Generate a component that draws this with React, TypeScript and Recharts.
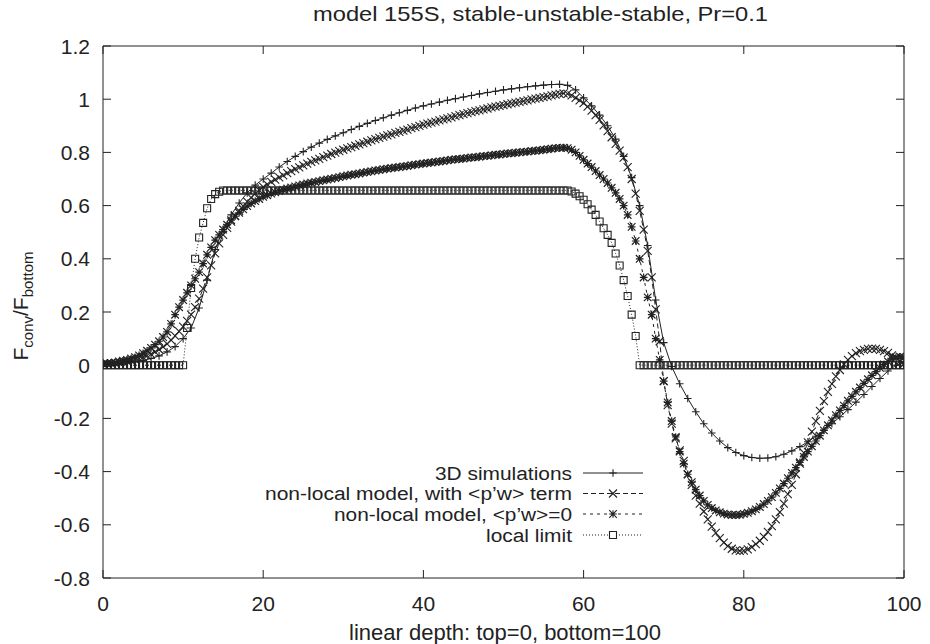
import { LineChart, Line, XAxis, YAxis, ReferenceArea } from "recharts";

// sample spacing along depth
const SIM_STEP = 1;
const MODEL_STEP = 0.5;

// 3D simulations, x = 0..100 step 1
const SIM_3D = [
  0.003, 0.004, 0.006, 0.009, 0.013, 0.018, 0.025, 0.035, 0.05, 0.07,
  0.1, 0.14, 0.215, 0.32, 0.435, 0.51, 0.565, 0.61, 0.648, 0.677,
  0.7, 0.722, 0.745, 0.766, 0.785, 0.803, 0.82, 0.835, 0.849, 0.862,
  0.874, 0.886, 0.898, 0.909, 0.92, 0.93, 0.94, 0.949, 0.958, 0.967,
  0.975, 0.982, 0.989, 0.996, 1.002, 1.008, 1.014, 1.02, 1.025, 1.03,
  1.035, 1.039, 1.043, 1.047, 1.05, 1.053, 1.055, 1.056, 1.052, 1.035,
  1.005, 0.975, 0.94, 0.9, 0.85, 0.785, 0.705, 0.6, 0.45, 0.245,
  0.085, -0.005, -0.07, -0.125, -0.175, -0.22, -0.255, -0.285, -0.31, -0.328,
  -0.34, -0.347, -0.35, -0.349, -0.344, -0.335, -0.322, -0.306, -0.288, -0.267,
  -0.244, -0.22, -0.194, -0.167, -0.139, -0.11, -0.08, -0.05, -0.022, 0.0,
  0.01,
];

// non-local model with <p'w> term, x = 0..100 step 0.5
const NONLOCAL_PW = [
  0.005, 0.006, 0.007, 0.008, 0.01, 0.012, 0.014, 0.017, 0.021, 0.025,
  0.03, 0.036, 0.042, 0.05, 0.059, 0.069, 0.08, 0.094, 0.11, 0.127,
  0.145, 0.167, 0.19, 0.218, 0.25, 0.288, 0.33, 0.375, 0.42, 0.458,
  0.49, 0.516, 0.54, 0.561, 0.58, 0.598, 0.615, 0.63, 0.645, 0.658,
  0.67, 0.68, 0.689, 0.698, 0.706, 0.714, 0.722, 0.73, 0.737, 0.744,
  0.751, 0.758, 0.764, 0.77, 0.776, 0.782, 0.788, 0.794, 0.799, 0.805,
  0.81, 0.815, 0.82, 0.825, 0.83, 0.835, 0.84, 0.845, 0.85, 0.855,
  0.859, 0.864, 0.868, 0.873, 0.877, 0.882, 0.886, 0.891, 0.895, 0.9,
  0.904, 0.908, 0.912, 0.916, 0.92, 0.924, 0.928, 0.932, 0.936, 0.94,
  0.944, 0.948, 0.951, 0.955, 0.958, 0.962, 0.965, 0.969, 0.972, 0.975,
  0.978, 0.981, 0.984, 0.987, 0.99, 0.993, 0.996, 0.999, 1.002, 1.005,
  1.008, 1.011, 1.014, 1.017, 1.02, 1.022, 1.02, 1.014, 1.005, 0.996,
  0.985, 0.972, 0.957, 0.94, 0.922, 0.902, 0.88, 0.857, 0.832, 0.807,
  0.78, 0.745, 0.7, 0.645, 0.58, 0.51, 0.43, 0.33, 0.21, 0.09,
  -0.06, -0.15, -0.22, -0.275, -0.32, -0.36, -0.41, -0.45, -0.49, -0.52,
  -0.55, -0.58, -0.607, -0.63, -0.65, -0.667, -0.68, -0.69, -0.696, -0.698,
  -0.697, -0.692, -0.684, -0.673, -0.66, -0.645, -0.627, -0.605, -0.58, -0.552,
  -0.52, -0.485, -0.45, -0.41, -0.37, -0.33, -0.29, -0.25, -0.21, -0.172,
  -0.135, -0.1, -0.07, -0.042, -0.018, 0.003, 0.02, 0.034, 0.045, 0.053,
  0.058, 0.061, 0.062, 0.061, 0.058, 0.053, 0.046, 0.037, 0.027, 0.015,
  0.005,
];

// non-local model, <p'w>=0, x = 0..100 step 0.5
const NONLOCAL_NOPW = [
  0.005, 0.006, 0.008, 0.01, 0.014, 0.017, 0.02, 0.025, 0.03, 0.037,
  0.045, 0.054, 0.065, 0.077, 0.09, 0.106, 0.125, 0.155, 0.19, 0.218,
  0.245, 0.272, 0.3, 0.325, 0.35, 0.382, 0.415, 0.443, 0.47, 0.49,
  0.51, 0.528, 0.545, 0.56, 0.573, 0.586, 0.598, 0.608, 0.617, 0.625,
  0.633, 0.639, 0.645, 0.65, 0.655, 0.66, 0.664, 0.668, 0.672, 0.676,
  0.679, 0.683, 0.686, 0.689, 0.692, 0.695, 0.698, 0.701, 0.704, 0.707,
  0.71, 0.713, 0.716, 0.718, 0.721, 0.724, 0.726, 0.729, 0.732, 0.734,
  0.737, 0.739, 0.741, 0.743, 0.745, 0.747, 0.749, 0.752, 0.754, 0.756,
  0.758, 0.76, 0.762, 0.764, 0.766, 0.768, 0.77, 0.772, 0.774, 0.775,
  0.777, 0.779, 0.781, 0.782, 0.784, 0.786, 0.787, 0.789, 0.791, 0.792,
  0.794, 0.796, 0.797, 0.799, 0.8, 0.802, 0.803, 0.805, 0.806, 0.808,
  0.81, 0.812, 0.814, 0.816, 0.817, 0.818, 0.816, 0.81, 0.8, 0.787,
  0.772, 0.758, 0.745, 0.73, 0.715, 0.7, 0.685, 0.667, 0.648, 0.625,
  0.6, 0.565, 0.52, 0.467, 0.4, 0.33, 0.255, 0.19, 0.1, 0.02,
  -0.06, -0.14, -0.21, -0.27, -0.325, -0.37, -0.41, -0.44, -0.468, -0.49,
  -0.51, -0.525, -0.537, -0.546, -0.553, -0.558, -0.561, -0.563, -0.563, -0.562,
  -0.559, -0.555, -0.549, -0.542, -0.533, -0.522, -0.51, -0.496, -0.48, -0.463,
  -0.445, -0.425, -0.405, -0.385, -0.365, -0.345, -0.325, -0.305, -0.285, -0.265,
  -0.245, -0.226, -0.207, -0.188, -0.17, -0.152, -0.134, -0.117, -0.1, -0.084,
  -0.068, -0.053, -0.038, -0.024, -0.01, 0.003, 0.014, 0.024, 0.03, 0.032,
  0.03,
];

// local limit, x = 0..100 step 0.5
const LOCAL_LIMIT = [
  0, 0, 0, 0, 0, 0, 0, 0, 0, 0,
  0, 0, 0, 0, 0, 0, 0, 0, 0, 0,
  0, 0.14, 0.29, 0.4, 0.48, 0.535, 0.59, 0.625, 0.643, 0.652,
  0.657, 0.657, 0.657, 0.657, 0.657, 0.657, 0.657, 0.657, 0.657, 0.657,
  0.657, 0.657, 0.657, 0.657, 0.657, 0.657, 0.657, 0.657, 0.657, 0.657,
  0.657, 0.657, 0.657, 0.657, 0.657, 0.657, 0.657, 0.657, 0.657, 0.657,
  0.657, 0.657, 0.657, 0.657, 0.657, 0.657, 0.657, 0.657, 0.657, 0.657,
  0.657, 0.657, 0.657, 0.657, 0.657, 0.657, 0.657, 0.657, 0.657, 0.657,
  0.657, 0.657, 0.657, 0.657, 0.657, 0.657, 0.657, 0.657, 0.657, 0.657,
  0.657, 0.657, 0.657, 0.657, 0.657, 0.657, 0.657, 0.657, 0.657, 0.657,
  0.657, 0.657, 0.657, 0.657, 0.657, 0.657, 0.657, 0.657, 0.657, 0.657,
  0.657, 0.657, 0.657, 0.657, 0.657, 0.657, 0.657, 0.653, 0.645, 0.635,
  0.622, 0.605, 0.585, 0.565, 0.54, 0.515, 0.49, 0.46, 0.42, 0.375,
  0.32, 0.26, 0.19, 0.11, 0, 0, 0, 0, 0, 0,
  0, 0, 0, 0, 0, 0, 0, 0, 0, 0,
  0, 0, 0, 0, 0, 0, 0, 0, 0, 0,
  0, 0, 0, 0, 0, 0, 0, 0, 0, 0,
  0, 0, 0, 0, 0, 0, 0, 0, 0, 0,
  0, 0, 0, 0, 0, 0, 0, 0, 0, 0,
  0, 0, 0, 0, 0, 0, 0, 0, 0, 0,
  0,
];

const X_TICKS = [0, 20, 40, 60, 80, 100];
const Y_TICKS = [-0.8, -0.6, -0.4, -0.2, 0, 0.2, 0.4, 0.6, 0.8, 1, 1.2];

const W = 930;
const H = 644;
const PLOT = { left: 103, right: 904, top: 46, bottom: 578 };
const INK = "#222";
const FONT = '"Liberation Sans", Arial, Helvetica, sans-serif';
const FS = 21;

const toPoints = (ys: number[], step: number) => ys.map((y, i) => ({ x: i * step, y }));

type Mark = "plus" | "cross" | "star" | "square";

function markPath(kind: Mark, cx: number, cy: number) {
  const s = kind === "square" ? 3.5 : kind === "cross" ? 4 : 3.8;
  const plus = `M${cx - s},${cy}H${cx + s}M${cx},${cy - s}V${cy + s}`;
  const cross = `M${cx - s},${cy - s}L${cx + s},${cy + s}M${cx - s},${cy + s}L${cx + s},${cy - s}`;
  if (kind === "plus") return plus;
  if (kind === "cross") return cross;
  if (kind === "star") return plus + cross;
  return `M${cx - s},${cy - s}H${cx + s}V${cy + s}H${cx - s}Z`;
}

const makeDot = (kind: Mark) => (p: any) => {
  const { cx, cy, index } = p;
  if (cx == null || cy == null) return <g key={`${kind}-${index}`} />;
  return (
    <path
      key={`${kind}-${index}`}
      d={markPath(kind, cx, cy)}
      stroke={INK}
      strokeWidth={kind === "star" ? 1.2 : 1.1}
      fill="none"
    />
  );
};

const SERIES = [
  { name: "3D simulations", width: 137, data: toPoints(SIM_3D, SIM_STEP), mark: "plus" as Mark, dash: undefined },
  { name: "non-local model, with <p’w> term", width: 307, data: toPoints(NONLOCAL_PW, MODEL_STEP), mark: "cross" as Mark, dash: "5 3" },
  { name: "non-local model, <p’w>=0", width: 238, data: toPoints(NONLOCAL_NOPW, MODEL_STEP), mark: "star" as Mark, dash: "3 4" },
  { name: "local limit", width: 86, data: toPoints(LOCAL_LIMIT, MODEL_STEP), mark: "square" as Mark, dash: "1 2" },
];

function XTick(props: any) {
  const { x, payload } = props;
  return (
    <g>
      <line x1={x} x2={x} y1={PLOT.bottom} y2={PLOT.bottom - 8} stroke={INK} />
      <line x1={x} x2={x} y1={PLOT.top} y2={PLOT.top + 8} stroke={INK} />
      <text x={x} y={611} textAnchor="middle" fontFamily={FONT} fontSize={FS} fill={INK}>
        {payload.value}
      </text>
    </g>
  );
}

function YTick(props: any) {
  const { y, payload } = props;
  return (
    <g>
      <line x1={PLOT.left} x2={PLOT.left + 8} y1={y} y2={y} stroke={INK} />
      <line x1={PLOT.right} x2={PLOT.right - 8} y1={y} y2={y} stroke={INK} />
      <text x={90} y={y + 7.5} textAnchor="end" fontFamily={FONT} fontSize={FS} fill={INK}>
        {payload.value}
      </text>
    </g>
  );
}

const LEGEND_ROWS = [473, 493.5, 514, 535];

function LegendBox() {
  return (
    <svg style={{ position: "absolute", left: 0, top: 0 }} width={W} height={H}>
      {SERIES.map((s, i) => (
        <g key={s.name}>
          <text
            x={572 - s.width}
            y={LEGEND_ROWS[i] + 6.5}
            fontFamily={FONT}
            fontSize={18}
            fill={INK}
            textLength={s.width}
            lengthAdjust="spacingAndGlyphs"
          >
            {s.name}
          </text>
          <line
            x1={583}
            x2={643}
            y1={LEGEND_ROWS[i]}
            y2={LEGEND_ROWS[i]}
            stroke={INK}
            strokeWidth={1}
            strokeDasharray={s.dash}
          />
          <path
            d={markPath(s.mark, 613, LEGEND_ROWS[i])}
            stroke={INK}
            strokeWidth={1.1}
            fill={s.mark === "square" ? "#fff" : "none"}
          />
        </g>
      ))}
    </svg>
  );
}

export default function App() {
  return (
    <div style={{ position: "absolute", left: 0, top: 0, width: W, height: H, background: "#fff" }}>
      <LineChart width={W} height={H} margin={{ top: PLOT.top, right: W - PLOT.right, bottom: 0, left: 0 }}>
        <XAxis
          type="number"
          dataKey="x"
          domain={[0, 100]}
          ticks={X_TICKS}
          interval={0}
          height={H - PLOT.bottom}
          axisLine={false}
          tickLine={false}
          tick={XTick}
          allowDataOverflow
        />
        <YAxis
          type="number"
          domain={[-0.8, 1.2]}
          ticks={Y_TICKS}
          interval={0}
          width={PLOT.left}
          axisLine={false}
          tickLine={false}
          tick={YTick}
          allowDataOverflow
        />
        <ReferenceArea x1={0} x2={100} y1={-0.8} y2={1.2} fill="none" stroke={INK} strokeWidth={1} />
        {SERIES.map((s) => (
          <Line
            key={s.name}
            data={s.data}
            dataKey="y"
            name={s.name}
            type="linear"
            stroke={INK}
            strokeWidth={1}
            strokeDasharray={s.dash}
            dot={makeDot(s.mark)}
            activeDot={false}
            isAnimationActive={false}
          />
        ))}
      </LineChart>

      <svg style={{ position: "absolute", left: 0, top: 0 }} width={W} height={H}>
        <text x={313} y={21} fontFamily={FONT} fontSize={21} fill={INK} textLength={455} lengthAdjust="spacingAndGlyphs">
          model 155S, stable-unstable-stable, Pr=0.1
        </text>
        <text x={505} y={640} textAnchor="middle" fontFamily={FONT} fontSize={22} fill={INK}>
          linear depth: top=0, bottom=100
        </text>
        <text
          x={0}
          y={0}
          transform="translate(28 306) rotate(-90)"
          textAnchor="middle"
          fontFamily={FONT}
          fontSize={FS}
          fill={INK}
        >
          F
          <tspan fontSize={15} dy={5}>conv</tspan>
          <tspan dy={-5}>/F</tspan>
          <tspan fontSize={15} dy={5}>bottom</tspan>
        </text>
      </svg>

      <LegendBox />
    </div>
  );
}
